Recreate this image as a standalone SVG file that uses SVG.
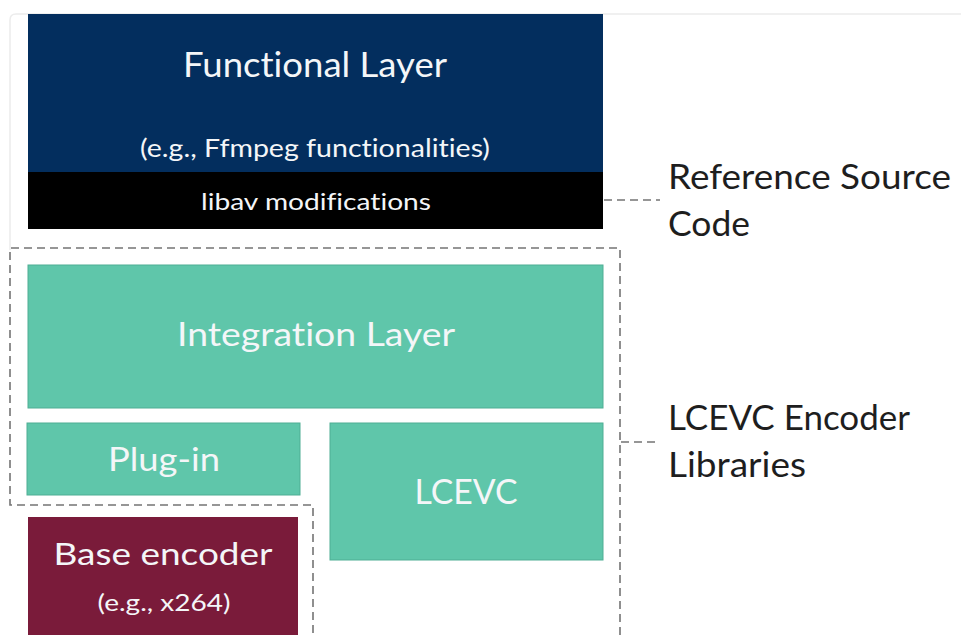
<svg xmlns="http://www.w3.org/2000/svg" width="961" height="635" viewBox="0 0 961 635">
  <style>
    text { font-variant-ligatures: none; }
    .lbl { font-family: Lato, "Open Sans", "Liberation Sans", sans-serif; text-anchor: middle; }
    .inv { fill: #f4f6f8; }
    .side { font-family: Lato, "Open Sans", "Liberation Sans", sans-serif; fill: #1e1e1e; font-size: 35px; }
    .dash { fill: none; stroke: #747474; stroke-width: 1.6; stroke-dasharray: 8 5; }
    .teal { fill: #5fc6aa; stroke: #4fae94; stroke-width: 1; }
  </style>

  <rect width="961" height="635" fill="#ffffff"/>
  <!-- faint page frame -->
  <path d="M10 250 V20 Q10 14 16 14 H961" fill="none" stroke="#ececec" stroke-width="1.5"/>

  <g id="functional-layer">
    <rect x="28" y="14" width="575" height="158" fill="#032e5e"/>
    <text class="lbl inv" x="315" y="77" font-size="34" textLength="264" lengthAdjust="spacingAndGlyphs">Functional Layer</text>
    <text class="lbl inv" x="315" y="157" font-size="25" textLength="350" lengthAdjust="spacingAndGlyphs">(e.g., Ffmpeg functionalities)</text>
  </g>

  <g id="libav-modifications">
    <rect x="28" y="172" width="575" height="57" fill="#000000"/>
    <text class="lbl inv" x="316" y="210" font-size="24" textLength="230" lengthAdjust="spacingAndGlyphs">libav modifications</text>
  </g>

  <g id="integration-layer">
    <rect class="teal" x="28" y="265" width="575" height="143"/>
    <text class="lbl inv" x="316" y="346" font-size="33" textLength="278" lengthAdjust="spacingAndGlyphs">Integration Layer</text>
  </g>

  <g id="plug-in">
    <rect class="teal" x="27" y="423" width="273" height="72"/>
    <text class="lbl inv" x="164" y="471" font-size="33" textLength="112" lengthAdjust="spacingAndGlyphs">Plug-in</text>
  </g>

  <g id="lcevc">
    <rect class="teal" x="330" y="423" width="273" height="137"/>
    <text class="lbl inv" x="466" y="504" font-size="34" textLength="103" lengthAdjust="spacingAndGlyphs">LCEVC</text>
  </g>

  <g id="base-encoder">
    <rect x="28" y="517" width="270" height="125" fill="#7a1b3a"/>
    <text class="lbl inv" x="163" y="565" font-size="31" textLength="219" lengthAdjust="spacingAndGlyphs">Base encoder</text>
    <text class="lbl inv" x="164" y="611" font-size="24" textLength="133" lengthAdjust="spacingAndGlyphs">(e.g., x264)</text>
  </g>

  <g id="encoder-libraries-boundary">
    <path class="dash" d="M620 635 V248 H10 V505 H313 V635"/>
  </g>

  <g id="connectors">
    <line class="dash" x1="604" y1="200" x2="660" y2="200"/>
    <line class="dash" x1="621" y1="442" x2="657" y2="442"/>
  </g>

  <g id="label-reference-source">
    <text class="side" x="668" y="189" textLength="283" lengthAdjust="spacingAndGlyphs">Reference Source</text>
    <text class="side" x="668" y="236" textLength="82" lengthAdjust="spacingAndGlyphs">Code</text>
  </g>

  <g id="label-encoder-libraries">
    <text class="side" x="668" y="430" textLength="242" lengthAdjust="spacingAndGlyphs">LCEVC Encoder</text>
    <text class="side" x="668" y="477" textLength="138" lengthAdjust="spacingAndGlyphs">Libraries</text>
  </g>
</svg>
